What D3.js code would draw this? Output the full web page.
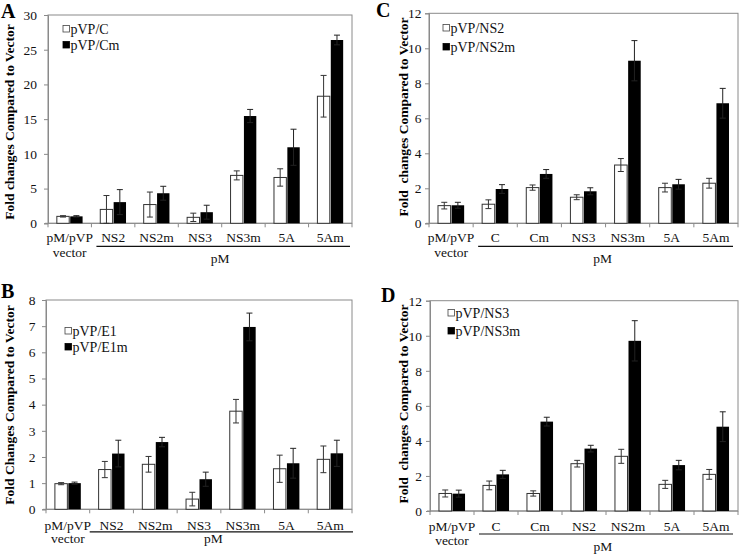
<html>
<head>
<script src="https://d3js.org/d3.v7.min.js"></script>
<style>
  body { margin: 0; background: #fff; }
</style>
</head>
<body>
<script>
// ---- data ----
const catsA = ["pM/pVP", "NS2", "NS2m", "NS3", "NS3m", "5A", "5Am"];
const whiteA = [1.0, 2.0, 2.7, 0.86, 6.9, 6.6, 18.3];
const whiteErrA = [0.1, 2.0, 1.8, 0.6, 0.65, 1.25, 3.0];
const blackA = [1.0, 3.05, 4.33, 1.6, 15.45, 10.95, 26.4];
const blackErrA = [0.1, 1.8, 1.0, 1.0, 0.95, 2.6, 0.7];

const catsB = ["pM/pVP", "NS2", "NS2m", "NS3", "NS3m", "5A", "5Am"];
const whiteB = [0.98, 1.52, 1.72, 0.39, 3.75, 1.55, 1.91];
const whiteErrB = [0.04, 0.31, 0.3, 0.26, 0.45, 0.52, 0.51];
const blackB = [1.0, 2.13, 2.57, 1.15, 6.97, 1.76, 2.14];
const blackErrB = [0.04, 0.51, 0.18, 0.27, 0.53, 0.57, 0.5];

const catsC = ["pM/pVP", "C", "Cm", "NS3", "NS3m", "5A", "5Am"];
const whiteC = [1.01, 1.09, 2.04, 1.49, 3.33, 2.04, 2.29];
const whiteErrC = [0.19, 0.25, 0.15, 0.14, 0.37, 0.25, 0.28];
const blackC = [1.03, 1.96, 2.82, 1.83, 9.29, 2.23, 6.86];
const blackErrC = [0.17, 0.25, 0.25, 0.2, 1.15, 0.28, 0.85];

const catsD = ["pM/pVP", "C", "Cm", "NS2", "NS2m", "5A", "5Am"];
const whiteD = [1.0, 1.46, 1.0, 2.7, 3.12, 1.52, 2.09];
const whiteErrD = [0.2, 0.25, 0.15, 0.19, 0.4, 0.23, 0.28];
const blackD = [0.99, 2.09, 5.1, 3.56, 9.71, 2.62, 4.81];
const blackErrD = [0.2, 0.23, 0.25, 0.19, 1.15, 0.27, 0.85];

const yTicksA = [0, 5, 10, 15, 20, 25, 30];
const yTicksB = [0, 1, 2, 3, 4, 5, 6, 7, 8];
const yTicksCD = [0, 2, 4, 6, 8, 10, 12];

const FONT = "'Liberation Serif', 'DejaVu Serif', serif";

const svg = d3.select("body").append("svg")
  .attr("width", 740).attr("height", 554)
  .attr("font-family", FONT);

function panel(p) {
  const g = svg.append("g");
  const x = d3.scaleBand().domain(p.cats).range([p.left, p.right]);
  const y = d3.scaleLinear().domain([0, d3.max(p.yTicks)]).range([p.bottom, p.top]);
  const bw = x.bandwidth() * 0.285;

  // frame
  g.append("rect")
    .attr("x", p.left).attr("y", p.top)
    .attr("width", p.right - p.left).attr("height", p.bottom - p.top)
    .attr("fill", "none").attr("stroke", "#8a8a8a");

  // y axis
  const ya = g.append("g")
    .attr("transform", `translate(${p.left},0)`)
    .call(d3.axisLeft(y).tickValues(p.yTicks).tickSize(4).tickPadding(p.tickPad))
    .attr("font-family", FONT).attr("font-size", 13.5);
  ya.selectAll("path, line").attr("stroke", "#8a8a8a");
  ya.selectAll("text").attr("fill", "#111");

  // x axis: ticks on band boundaries
  const xa = g.append("g").attr("transform", `translate(0,${p.bottom})`);
  xa.append("line").attr("x1", p.left - 3).attr("x2", p.right)
    .attr("stroke", "#8a8a8a");
  xa.selectAll("line.t").data(p.cats.concat(["end"])).join("line")
    .attr("class", "t")
    .attr("x1", (d, i) => i < p.cats.length ? x(d) : p.right)
    .attr("x2", (d, i) => i < p.cats.length ? x(d) : p.right)
    .attr("y1", 0).attr("y2", 4).attr("stroke", "#8a8a8a");

  // bars
  const rows = p.cats.map((c, i) => ({
    c, w: p.white[i], we: p.whiteErr[i], b: p.black[i], be: p.blackErr[i]
  }));
  const cx = d => x(d.c) + x.bandwidth() / 2;

  g.append("g").selectAll("rect").data(rows).join("rect")
    .attr("x", d => cx(d) - bw - 0.5).attr("y", d => y(d.w))
    .attr("width", bw).attr("height", d => y(0) - y(d.w))
    .attr("fill", "#fff").attr("stroke", "#333").attr("stroke-width", 1);
  g.append("g").selectAll("rect").data(rows).join("rect")
    .attr("x", d => cx(d) + 0.5).attr("y", d => y(d.b))
    .attr("width", bw).attr("height", d => y(0) - y(d.b))
    .attr("fill", "#000");

  // error bars
  const eb = (sel, xf, v, e) => {
    sel.append("line").attr("x1", xf).attr("x2", xf)
      .attr("y1", d => y(v(d) - e(d))).attr("y2", d => y(v(d) + e(d)));
    sel.append("line").attr("x1", d => xf(d) - 3).attr("x2", d => xf(d) + 3)
      .attr("y1", d => y(v(d) + e(d))).attr("y2", d => y(v(d) + e(d)));
    sel.append("line").attr("x1", d => xf(d) - 3).attr("x2", d => xf(d) + 3)
      .attr("y1", d => y(v(d) - e(d))).attr("y2", d => y(v(d) - e(d)));
  };
  const ew = g.append("g").attr("stroke", "#333").selectAll("g").data(rows).join("g");
  eb(ew, d => cx(d) - bw / 2 - 0.5, d => d.w, d => d.we);
  const ek = g.append("g").attr("stroke", "#222").selectAll("g").data(rows).join("g");
  eb(ek, d => cx(d) + bw / 2 + 0.5, d => d.b, d => d.be);

  // category labels
  g.append("g").selectAll("text").data(p.cats).join("text")
    .attr("x", d => x(d) + x.bandwidth() / 2)
    .attr("y", p.bottom + p.labY)
    .attr("text-anchor", "middle").attr("font-size", 13.5).attr("fill", "#111")
    .text(d => d);
  g.append("text")
    .attr("x", x(p.cats[0]) + x.bandwidth() / 2).attr("y", p.bottom + p.vecY)
    .attr("text-anchor", "middle").attr("font-size", 13.5).attr("fill", "#111")
    .text("vector");
  const lx1 = x(p.cats[1]) + p.lineIn, lx2 = p.right - p.lineOut;
  g.append("line").attr("x1", lx1).attr("x2", lx2)
    .attr("y1", p.bottom + p.lineY).attr("y2", p.bottom + p.lineY)
    .attr("stroke", "#111").attr("stroke-width", 1.2);
  g.append("text")
    .attr("x", (lx1 + lx2) / 2 + p.pmDx).attr("y", p.bottom + p.pmY)
    .attr("text-anchor", "middle").attr("font-size", 13.5).attr("fill", "#111")
    .text("pM");

  // y title
  g.append("text")
    .attr("transform", `translate(${p.titleX},${p.titleY}) rotate(-90)`)
    .attr("text-anchor", "middle").attr("font-size", 13.5).attr("font-weight", "bold")
    .style("white-space", "pre")
    .text(p.title);

  // panel letter
  g.append("text").attr("x", p.letX).attr("y", p.letY)
    .attr("font-size", 20).attr("font-weight", "bold").text(p.letter);

  // legend
  p.legend.forEach((name, i) => {
    const ly = p.legY + i * p.legGap;
    g.append("rect").attr("x", p.legX).attr("y", ly - 3.5)
      .attr("width", 6.5).attr("height", 6.5)
      .attr("fill", i ? "#000" : "#fff").attr("stroke", i ? "#000" : "#444")
      .attr("stroke-width", 0.8);
    g.append("text").attr("x", p.legX + 7.5).attr("y", ly + 4.5)
      .attr("font-size", 14).attr("fill", "#111").text(name);
  });
}

panel({
  cats: catsA, white: whiteA, whiteErr: whiteErrA, black: blackA, blackErr: blackErrA,
  yTicks: yTicksA, left: 48, top: 15, right: 352, bottom: 223.3, tickPad: 7,
  labY: 19, vecY: 34, lineY: 23, lineIn: 5, lineOut: 2, pmY: 40, pmDx: -3,
  title: "Fold changes Compared to Vector", titleX: 14, titleY: 122,
  letter: "A", letX: 1, letY: 18,
  legend: ["pVP/C", "pVP/Cm"], legX: 63, legY: 29, legGap: 16
});
panel({
  cats: catsB, white: whiteB, whiteErr: whiteErrB, black: blackB, blackErr: blackErrB,
  yTicks: yTicksB, left: 46, top: 300, right: 352, bottom: 509.3, tickPad: 6.5,
  labY: 20.5, vecY: 34, lineY: 22.5, lineIn: 0, lineOut: -1, pmY: 33.5, pmDx: -8,
  title: "Fold Changes Compared to Vector", titleX: 13.5, titleY: 405,
  letter: "B", letX: 1, letY: 298,
  legend: ["pVP/E1", "pVP/E1m"], legX: 65, legY: 331, legGap: 16
});
panel({
  cats: catsC, white: whiteC, whiteErr: whiteErrC, black: blackC, blackErr: blackErrC,
  yTicks: yTicksCD, left: 429, top: 13.3, right: 738, bottom: 223.3, tickPad: 3.5,
  labY: 19, vecY: 34, lineY: 23, lineIn: 5, lineOut: 5, pmY: 40, pmDx: -3,
  title: "Fold  changes Compared to Vector", titleX: 407.5, titleY: 117,
  letter: "C", letX: 376, letY: 17,
  legend: ["pVP/NS2", "pVP/NS2m"], legX: 443, legY: 28, legGap: 19
});
panel({
  cats: catsD, white: whiteD, whiteErr: whiteErrD, black: blackD, blackErr: blackErrD,
  yTicks: yTicksCD, left: 430, top: 300.7, right: 738, bottom: 511, tickPad: 4,
  labY: 20, vecY: 34, lineY: 23, lineIn: 5, lineOut: 5, pmY: 40, pmDx: -3,
  title: "Fold  changes Compared to Vector", titleX: 407.5, titleY: 404,
  letter: "D", letX: 381, letY: 302,
  legend: ["pVP/NS3", "pVP/NS3m"], legX: 448, legY: 313, legGap: 18
});
</script>
</body>
</html>
